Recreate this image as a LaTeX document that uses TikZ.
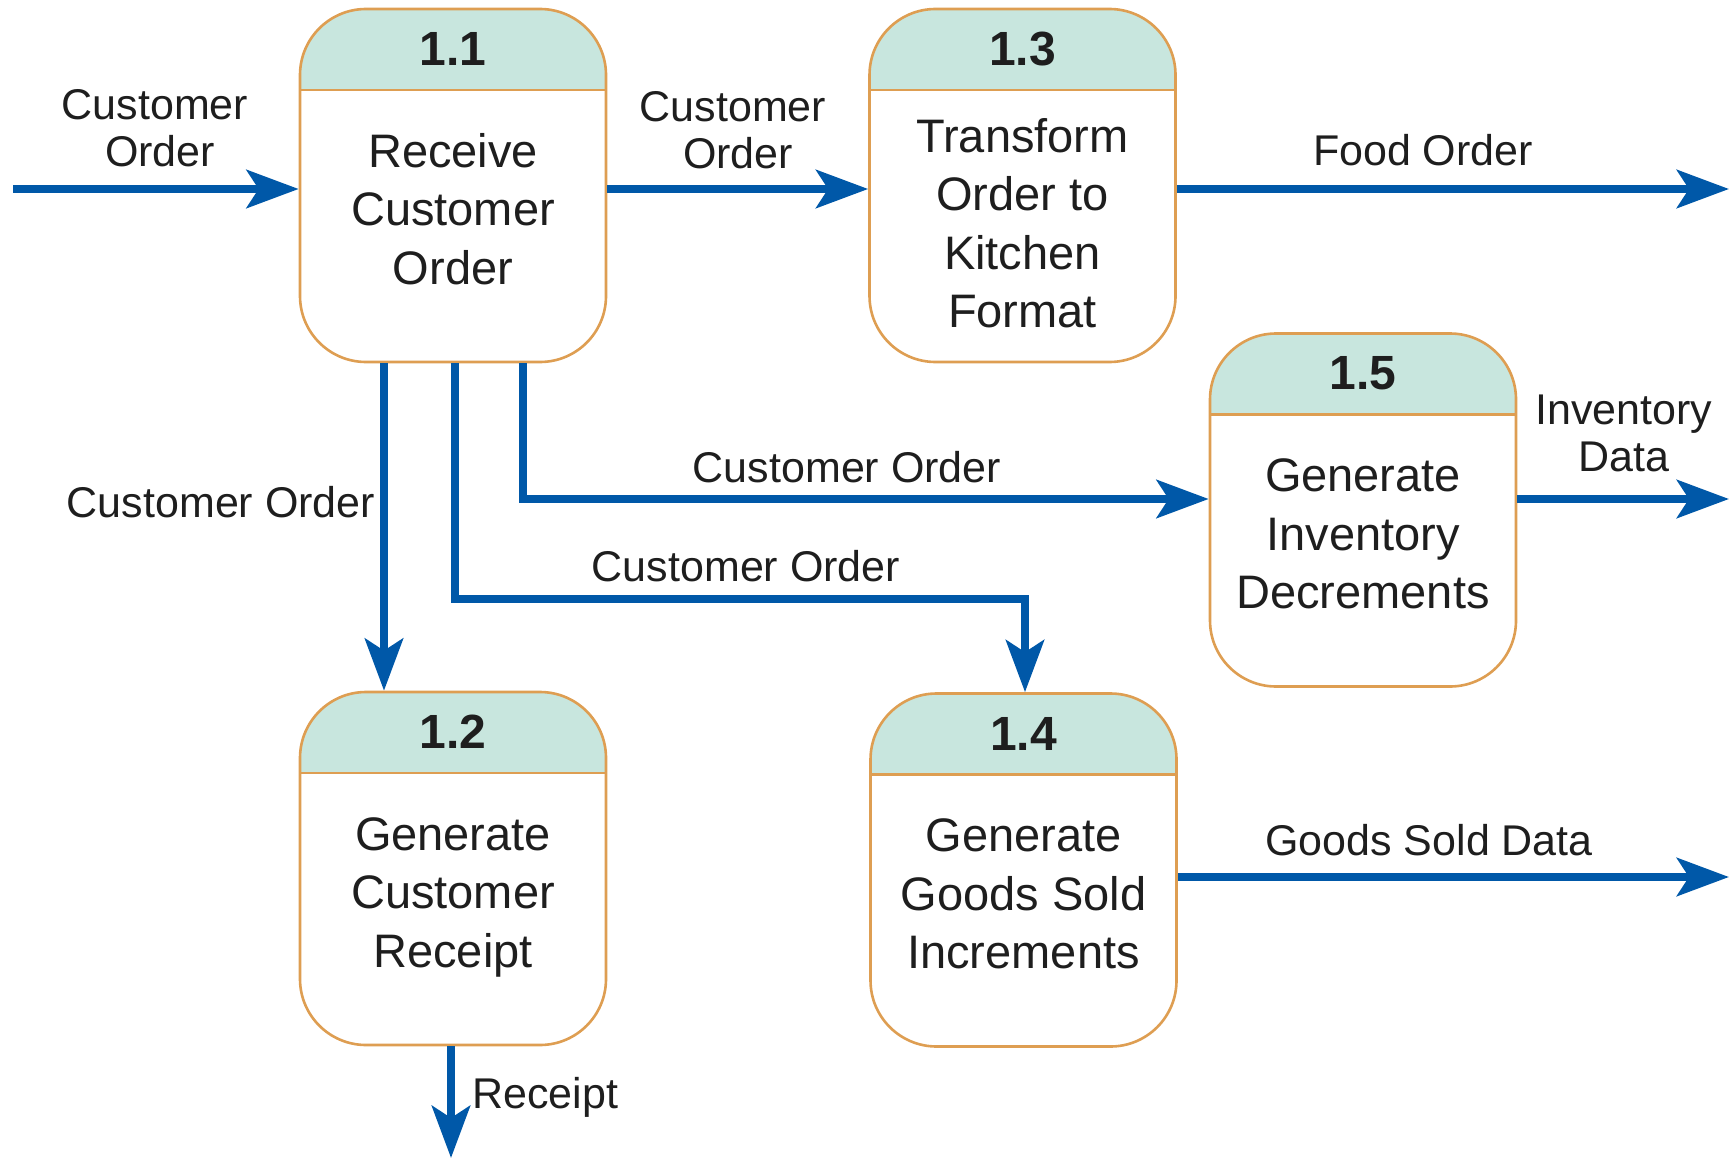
\documentclass[tikz,border=0pt]{standalone}
\usepackage{fontspec}
\setmainfont{Liberation Sans}
\usetikzlibrary{arrows.meta}
\definecolor{flowblue}{RGB}{0,88,168}
\definecolor{boxline}{RGB}{222,158,82}
\definecolor{headfill}{RGB}{200,230,222}
\definecolor{txt}{RGB}{30,30,30}
\begin{document}
\begin{tikzpicture}[x=1pt,y=-1pt,
  proc/.style={draw=boxline, line width=2.6pt, rounded corners=66pt, fill=white,
    minimum width=306pt, minimum height=353pt, inner sep=0pt,
    path picture={\fill[headfill, sharp corners] (path picture bounding box.north west) rectangle ([yshift=-81pt]path picture bounding box.north east);
      \draw[boxline, line width=2.6pt, sharp corners] ([yshift=-81pt]path picture bounding box.north west) -- ([yshift=-81pt]path picture bounding box.north east);}},
  num/.style={font=\fontsize{48}{48}\selectfont\bfseries, text=txt, inner sep=0pt},
  body/.style={font=\fontsize{47}{58.5}\selectfont, text=txt, align=center, inner sep=0pt},
  lab/.style={font=\fontsize{43}{47}\selectfont, text=txt, align=center, inner sep=0pt},
  flow/.style={draw=flowblue, line width=8.5pt, -{Stealth[length=52pt, width=38pt, inset=12pt, fill=flowblue]}}
]
\useasboundingbox (0,0) rectangle (1736,1158);

% process boxes
\node[proc] (p11) at (453,185.5) {};
\node[proc] (p13) at (1022.5,185.5) {};
\node[proc] (p15) at (1363,510) {};
\node[proc] (p12) at (453,868.5) {};
\node[proc] (p14) at (1023.5,870) {};

% numbers
\node[num] (n11) at (453,49) {1.1};
\node[num] (n13) at (1022.5,49) {1.3};
\node[num] (n15) at (1363,373) {1.5};
\node[num] (n12) at (453,732) {1.2};
\node[num] (n14) at (1023.5,734) {1.4};

% body texts
\node[body] (t11) at (453,209) {Receive\\Customer\\Order};
\node[body] (t13) at (1022.5,223) {Transform\\Order to\\Kitchen\\Format};
\node[body] (t15) at (1363,534) {Generate\\Inventory\\Decrements};
\node[body] (t12) at (453,897) {Generate\\Customer\\Receipt};
\node[body] (t14) at (1023.5,894) {Generate\\Goods Sold\\Increments};

% free ends
\coordinate (in) at (13,189);
\coordinate (outFood) at (1729,189);
\coordinate (outInv) at (1729,499);
\coordinate (outGoods) at (1729,877);
\coordinate (outRec) at (451,1158);

% flows
\draw[flow] (in) -- (p11.west |- in);
\draw[flow] (p11.east |- in) -- (p13.west |- in);
\draw[flow] (p13.east |- in) -- (outFood);
\draw[flow] (p11.south -| 384,0) -- (p12.north -| 384,0);
\draw[flow, rounded corners=0pt] (p11.south -| 455,0) |- (1025,599) -- (p14.north -| 1025,0);
\draw[flow] (p11.south -| 523,0) |- (p15.west |- outInv);
\draw[flow] (p15.east |- outInv) -- (outInv);
\draw[flow] (p14.east |- outGoods) -- (outGoods);
\draw[flow] (p12.south -| outRec) -- (outRec);

% labels
\node[lab] (l1) at (155,128) {Customer\\\hspace*{10pt}Order};
\node[lab] (l2) at (733,130) {Customer\\\hspace*{10pt}Order};
\node[lab] (l3) at (1423,150) {Food Order};
\node[lab] (l4) at (1624,433) {Inventory\\Data};
\node[lab] (l5) at (847,467) {Customer Order};
\node[lab] (l6) at (221,502) {Customer Order};
\node[lab] (l7) at (746,566) {Customer Order};
\node[lab] (l8) at (1429,840) {Goods Sold Data};
\node[lab, anchor=west] (l9) at (472,1097) {Receipt};
\end{tikzpicture}
\end{document}
